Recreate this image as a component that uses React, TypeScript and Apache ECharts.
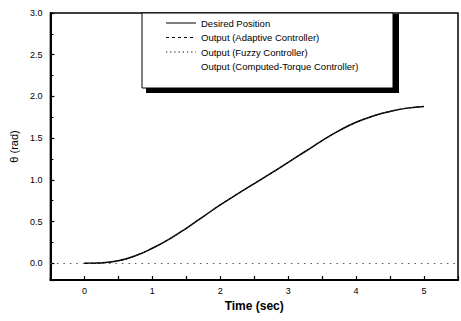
import React, { useEffect, useRef } from "react";
import * as echarts from "echarts";

const timeSec = [0, 0.25, 0.5, 0.75, 1, 1.25, 1.5, 1.75, 2, 2.25, 2.5, 2.75, 3, 3.25, 3.5, 3.75, 4, 4.25, 4.5, 4.75, 5];
const desired = [0, 0.005, 0.03, 0.09, 0.18, 0.29, 0.42, 0.56, 0.7, 0.83, 0.955, 1.08, 1.21, 1.34, 1.47, 1.59, 1.69, 1.765, 1.82, 1.86, 1.88];
const adaptive = [0, 0.005, 0.03, 0.09, 0.18, 0.29, 0.42, 0.56, 0.7, 0.83, 0.955, 1.08, 1.21, 1.34, 1.47, 1.59, 1.69, 1.765, 1.82, 1.86, 1.88];
const fuzzy = [0, 0.006, 0.031, 0.091, 0.181, 0.291, 0.421, 0.561, 0.701, 0.831, 0.956, 1.081, 1.211, 1.341, 1.471, 1.591, 1.691, 1.766, 1.821, 1.861, 1.881];
const computedTorque = [0, 0.005, 0.03, 0.09, 0.18, 0.29, 0.42, 0.56, 0.7, 0.83, 0.955, 1.08, 1.21, 1.34, 1.47, 1.59, 1.69, 1.765, 1.82, 1.86, 1.88];
const legendNames = [
  "Desired Position",
  "Output (Adaptive Controller)",
  "Output (Fuzzy Controller)",
  "Output (Computed-Torque Controller)",
];

const FONT = "Liberation Sans, Arial, sans-serif";

export default function App() {
  const ref = useRef<HTMLDivElement>(null);
  useEffect(() => {
    if (!ref.current) return;
    const chart = echarts.init(ref.current, undefined, { renderer: "svg" });
    const pair = (ys: number[]) => timeSec.map((t, i) => [t, ys[i]]);
    const legendY = [23, 37.5, 52, 66.5];
    const legendDash: (number[] | null | "none")[] = [null, [3, 3], [1.2, 3], "none"];
    const legendItems: any[] = [];
    legendNames.forEach((name, i) => {
      const d = legendDash[i];
      if (d !== "none") {
        legendItems.push({
          type: "line",
          shape: { x1: 166, y1: legendY[i], x2: 196, y2: legendY[i] },
          style: { stroke: "#000", lineWidth: 1, lineDash: d || undefined },
        });
      }
      legendItems.push({
        type: "text",
        x: 201,
        y: legendY[i],
        style: {
          text: name,
          fill: "#000",
          font: `9.5px ${FONT}`,
          textVerticalAlign: "middle",
        },
      });
    });
    chart.setOption({
      animation: false,
      backgroundColor: "#fff",
      grid: {
        left: 49,
        top: 13,
        bottom: 41,
        right: -2,
        show: true,
        borderColor: "#000",
        borderWidth: 1.5,
      },
      xAxis: {
        type: "value",
        min: -0.5,
        max: 5.5,
        interval: 0.5,
        name: "Time (sec)",
        nameLocation: "middle",
        nameGap: 20,
        nameTextStyle: { fontFamily: FONT, fontSize: 12, fontWeight: "bold", color: "#000" },
        axisLine: { show: true, onZero: false, lineStyle: { color: "#000", width: 2 } },
        axisTick: { show: true, inside: true, length: 4, lineStyle: { color: "#000", width: 1.2 } },
        axisLabel: {
          fontFamily: FONT,
          fontSize: 9,
          color: "#000",
          margin: 6,
          formatter: (v: number) => (Math.abs(v - Math.round(v)) < 1e-6 && v >= 0 && v <= 5 ? String(Math.round(v)) : ""),
        },
        splitLine: { show: false },
      },
      yAxis: {
        type: "value",
        min: -0.2,
        max: 3.0,
        name: "θ (rad)",
        nameLocation: "middle",
        nameGap: 24,
        nameTextStyle: { fontFamily: FONT, fontSize: 11, color: "#000" },
        axisLine: { show: true, onZero: false, lineStyle: { color: "#000", width: 2 } },
        axisTick: { show: true, inside: true, length: 4, lineStyle: { color: "#000", width: 1.2 } },
        minorTick: { show: true, splitNumber: 2, length: 3, lineStyle: { color: "#000", width: 1 } },
        axisLabel: {
          fontFamily: FONT,
          fontSize: 9,
          color: "#000",
          margin: 8,
          formatter: (v: number) => (v < -0.01 ? "" : v.toFixed(1)),
        },
        splitLine: { show: false },
      },
      series: [
        {
          name: legendNames[0],
          type: "line",
          smooth: true,
          showSymbol: false,
          data: pair(desired),
          lineStyle: { color: "#000", width: 1.5 },
          z: 3,
        },
        {
          name: legendNames[1],
          type: "line",
          smooth: true,
          showSymbol: false,
          data: pair(adaptive),
          lineStyle: { color: "#000", width: 1, type: [3, 3] },
          z: 4,
        },
        {
          name: legendNames[2],
          type: "line",
          smooth: true,
          showSymbol: false,
          data: pair(fuzzy),
          lineStyle: { color: "#444", width: 1, type: [1, 3] },
          z: 4,
        },
        {
          name: legendNames[3],
          type: "line",
          smooth: true,
          showSymbol: false,
          data: pair(computedTorque),
          lineStyle: { color: "#999", width: 1, type: [1, 4] },
          z: 2,
          markLine: {
            silent: true,
            symbol: "none",
            label: { show: false },
            lineStyle: { color: "#555", width: 1, type: [1.5, 5] },
            data: [{ yAxis: 0 }],
          },
        },
      ],
      graphic: [
        {
          type: "group",
          z: 100,
          children: [
            { type: "rect", shape: { x: 146, y: 14, width: 253, height: 79 }, style: { fill: "#000" } },
            { type: "rect", shape: { x: 142, y: 13, width: 251, height: 75 }, style: { fill: "#fff", stroke: "#000", lineWidth: 1 } },
            ...legendItems,
          ],
        },
      ],
    });
    return () => chart.dispose();
  }, []);
  return <div ref={ref} style={{ width: 461, height: 321, position: "absolute", left: 0, top: 0 }} />;
}
